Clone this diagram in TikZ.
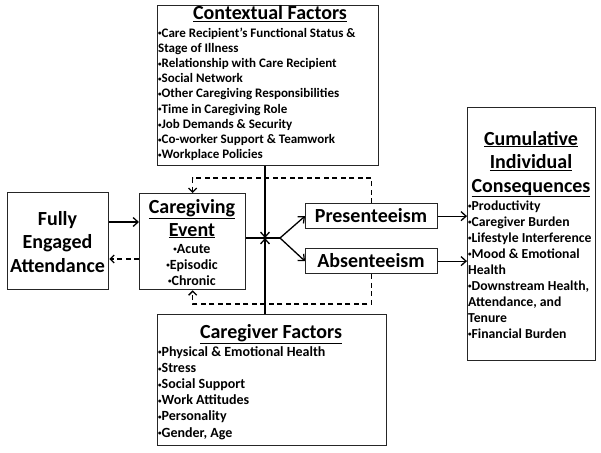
\documentclass[tikz,border=0pt]{standalone}
\usepackage{fontspec}
\setmainfont{Carlito}
\usetikzlibrary{arrows.meta}
\newcommand\bul{{\fontsize{7}{7}\selectfont\raisebox{0.35ex}{•}}}
\begin{document}
\begin{tikzpicture}[x=1pt,y=-1pt,
  font=\bfseries,
  box/.style={draw=black!85, line width=1.3pt, inner sep=0pt, anchor=north west},
  ttl/.style={font=\bfseries\fontsize{20}{20}\selectfont, inner sep=0pt, anchor=base},
  big/.style={font=\bfseries\fontsize{20}{23.5}\selectfont, inner sep=0pt, align=center, anchor=base},
  lst/.style={inner sep=0pt, align=left, anchor=base west},
  arr/.style={line width=1.3pt, -{Straight Barb[length=5pt,width=9pt]}},
  ln/.style={line width=1.3pt},
  darr/.style={line width=1.3pt, dash pattern=on 5pt off 3.5pt, -{Straight Barb[length=4pt,width=8pt]}}]
\useasboundingbox (0,0) rectangle (601,452);
% boxes
\node[box, minimum width=221pt, minimum height=160pt] (ctx) at (157,5) {};
\node[box, minimum width=106pt, minimum height=96pt] (ce) at (139,193) {};
\node[box, minimum width=101pt, minimum height=97pt] (fe) at (7,192) {};
\node[box, minimum width=132pt, minimum height=25pt] (pres) at (305,203) {};
\node[box, minimum width=132pt, minimum height=25pt] (abs) at (305,248) {};
\node[box, minimum width=229pt, minimum height=131pt] (cf) at (157,314) {};
\node[box, minimum width=128pt, minimum height=253pt] (cum) at (467,107) {};
% texts (base anchor = baseline of last line)
\node[ttl] (ctxt) at (270,19.5) {\underline{Contextual Factors}};
\node[lst, font=\bfseries\fontsize{13}{15.2}\selectfont] (ctxl) at (158,158.6) {%
\bul Care Recipient’s Functional Status \&\\
Stage of Illness\\
\bul Relationship with Care Recipient\\
\bul Social Network\\
\bul Other Caregiving Responsibilities\\
\bul Time in Caregiving Role\\
\bul Job Demands \& Security\\
\bul Co-worker Support \& Teamwork\\
\bul Workplace Policies};
\node[ttl] (cft) at (271,338.5) {\underline{Caregiver Factors}};
\node[lst, font=\bfseries\fontsize{14}{16.2}\selectfont] (cfl) at (158,437) {%
\bul Physical \& Emotional Health\\
\bul Stress\\
\bul Social Support\\
\bul Work Attitudes\\
\bul Personality\\
\bul Gender, Age};
\node[big] (fet) at (57.5,272) {Fully\\Engaged\\Attendance};
\node[big, font=\bfseries\fontsize{20}{23}\selectfont] (cet) at (192,236) {\underline{Caregiving}\\\underline{Event}};
\node[inner sep=0pt, align=center, anchor=base, font=\bfseries\fontsize{14}{16}\selectfont] (cel) at (192,285) {\bul Acute\\\bul Episodic\\\bul Chronic};
\node[big] (prest) at (371,222) {Presenteeism};
\node[big] (abst) at (371,267) {Absenteeism};
\node[big] (cumt) at (531,192) {\underline{Cumulative}\\\underline{Individual}\\\underline{Consequences}};
\node[lst, font=\bfseries\fontsize{13.7}{16}\selectfont] (cuml) at (468,338) {%
\bul Productivity\\
\bul Caregiver Burden\\
\bul Lifestyle Interference\\
\bul Mood \& Emotional\\
Health\\
\bul Downstream Health,\\
Attendance, and\\
Tenure\\
\bul Financial Burden};
% connectors
\coordinate (j) at (265,238);
\coordinate (b) at (280,238);
\coordinate (r1) at (0,222);
\coordinate (r2) at (0,259);
\coordinate (t1) at (0,178);
\coordinate (t2) at (0,304);
\draw[arr] (fe.east |- r1) -- (ce.west |- r1);
\draw[darr] (ce.west |- r2) -- (fe.east |- r2);
\draw[arr] (j |- ctx.south) -- (j);
\draw[arr] (j |- cf.north) -- (j);
\draw[ln] (ce.east |- j) -- (b);
\draw[arr] (b) -- (pres.west);
\draw[arr] (b) -- (abs.west);
\draw[arr] (pres.east) -- (cum.west |- pres.east);
\draw[arr] (abs.east) -- (cum.west |- abs.east);
\draw[darr] (pres.north) -- (pres.north |- t1) -- (ce.north |- t1) -- (ce.north);
\draw[darr] (abs.south) -- (abs.south |- t2) -- (ce.south |- t2) -- (ce.south);
\end{tikzpicture}
\end{document}
